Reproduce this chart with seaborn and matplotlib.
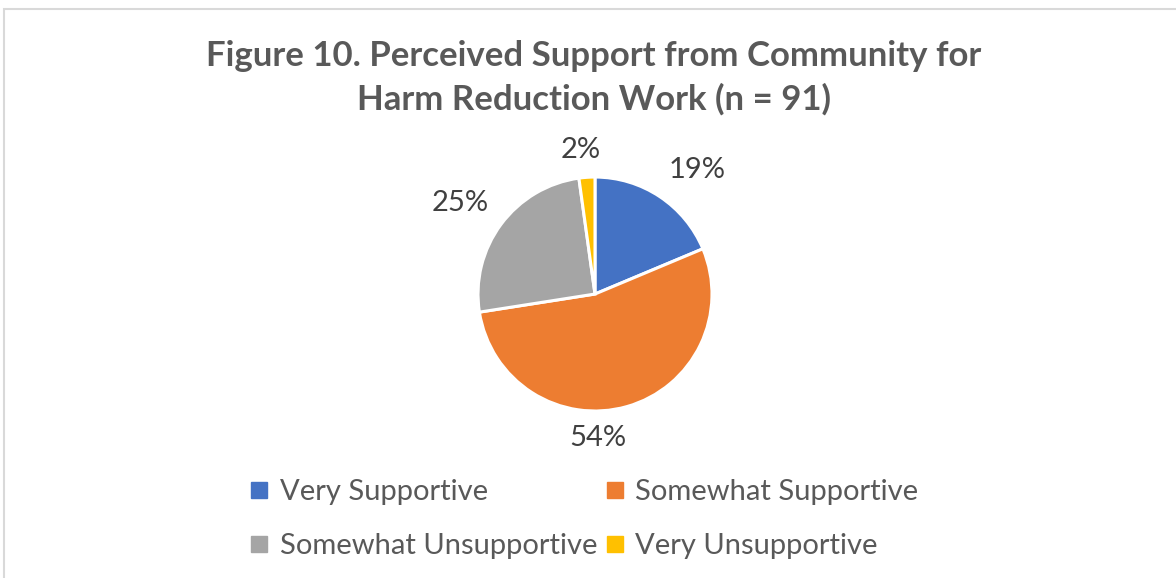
import numpy as np
import pandas as pd
import seaborn as sns
import matplotlib.pyplot as plt
from matplotlib.patches import Rectangle
from matplotlib.lines import Line2D

# counts out of n = 91 respondents
categories = ["Very Supportive", "Somewhat Supportive", "Somewhat Unsupportive", "Very Unsupportive"]
counts = [17, 49, 23, 2]
pct_labels = ["19%", "54%", "25%", "2%"]
colors = ["#4472C4", "#ED7D31", "#A5A5A5", "#FFC000"]

# where Excel "best fit" put each data label: (distance in radii, angle offset from wedge middle)
label_place = [(1.37, -5.8), (1.23, -14.6), (1.39, 2.4), (1.24, 1.6)]

sns.set_theme(style="white")
plt.rcParams["font.family"] = ["Lato", "DejaVu Sans"]

df = pd.DataFrame({"category": categories, "count": counts, "label": pct_labels})

fig = plt.figure(figsize=(11.76, 5.78), dpi=100)
ax = fig.add_axes([0.3816, 0.2383, 0.2487, 0.506])

wedges, _ = ax.pie(
    df["count"],
    colors=colors,
    startangle=90,
    counterclock=False,
    radius=1,
    wedgeprops={"edgecolor": "white", "linewidth": 2.2},
)

for w, lab, (dist, off) in zip(wedges, df["label"], label_place):
    mid = np.deg2rad((w.theta1 + w.theta2) / 2 + off)
    ax.text(dist * np.cos(mid), dist * np.sin(mid), lab,
            ha="center", va="center", fontsize=21, color="#404040")

fig.text(0.505, 0.866, "Figure 10. Perceived Support from Community for\nHarm Reduction Work (n = 91)",
         ha="center", va="center", fontsize=25, fontweight="bold", color="#595959",
         linespacing=1.4)

# legend fills column by column, so reorder to read row by row like the original
order = [0, 2, 1, 3]
handles = [Line2D([], [], marker="s", linestyle="", markersize=12, color=colors[i]) for i in order]
labels = [df["category"][i] for i in order]
fig.legend(handles, labels, ncol=2, loc="center", bbox_to_anchor=(0.497, 0.102),
           frameon=False, fontsize=21, labelcolor="#595959", handlelength=0.6,
           handletextpad=0.4, columnspacing=0.3, labelspacing=0.98)

# light chart-area border (cropped at right and bottom in the original)
fig.patches.append(Rectangle((0.0038, -0.1), 1.2, 1.0844, transform=fig.transFigure,
                             fill=False, edgecolor="#D9D9D9", linewidth=1.5))

fig.savefig("out.png", dpi=100)
